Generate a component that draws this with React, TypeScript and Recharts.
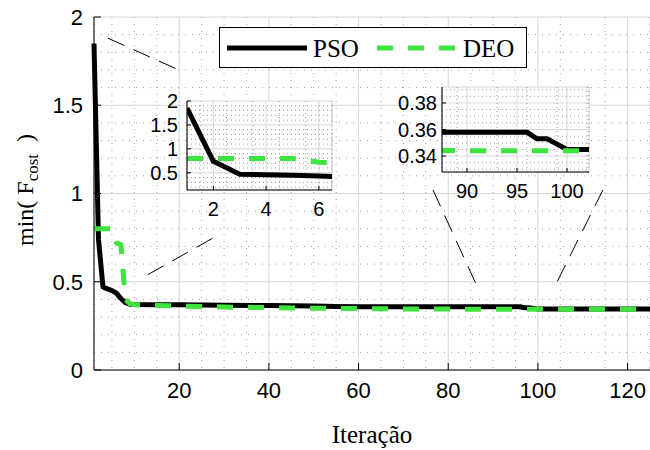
import React from "react";
import {
  LineChart,
  Line,
  XAxis,
  YAxis,
  CartesianGrid,
  ReferenceLine,
  Legend,
} from "recharts";

const SANS = "'Liberation Sans', Arial, Helvetica, sans-serif";
const SERIF = "'Liberation Serif', 'Times New Roman', serif";
const GREEN = "#3ee33e";
const DASH = "16 15";
const MINOR = "#a0a0a0";

// best cost found per iteration
const iterations = [1, 2, 3, 4, 5, 6, 7, 8, 9, 10, 15, 20, 30, 40, 50, 55, 60, 70, 80, 90, 96, 97, 98, 99, 100, 101, 110, 125];
const psoCost = [1.85, 0.74, 0.47, 0.46, 0.45, 0.435, 0.405, 0.382, 0.373, 0.371, 0.37, 0.369, 0.367, 0.365, 0.363, 0.36, 0.358, 0.358, 0.358, 0.358, 0.358, 0.353, 0.353, 0.349, 0.345, 0.345, 0.345, 0.345];
const deoCost = [0.8, 0.8, 0.8, 0.8, 0.8, 0.72, 0.71, 0.4, 0.375, 0.37, 0.366, 0.362, 0.357, 0.353, 0.35, 0.349, 0.348, 0.346, 0.345, 0.344, 0.344, 0.344, 0.344, 0.344, 0.344, 0.344, 0.344, 0.344];

const seriesOrder = ["pso", "deo"];

const xTicks = [20, 40, 60, 80, 100, 120];
const yTicks = [0, 0.5, 1, 1.5, 2];

const zoomAXTicks = [2, 4, 6];
const zoomAYTicks = [0.5, 1, 1.5, 2];
const zoomBXTicks = [90, 95, 100];
const zoomBYTicks = [0.34, 0.36, 0.38];

// dashed guide lines from the zoomed regions to the insets (main axes units)
const connectors = [
  [{ x: 4.1, y: 1.88 }, { x: 20.8, y: 1.69 }],
  [{ x: 13.0, y: 0.54 }, { x: 29.1, y: 0.77 }],
  [{ x: 76.6, y: 1.02 }, { x: 86.6, y: 0.465 }],
  [{ x: 114.5, y: 1.02 }, { x: 103.6, y: 0.465 }],
];

const data = iterations.map((it, i) => ({ it, pso: psoCost[i], deo: deoCost[i] }));

// minor grid positions, skipping the major ones
function minorSteps(from: number, to: number, step: number, major: number) {
  const out: number[] = [];
  for (let k = 0; from + k * step <= to + 1e-9; k++) {
    const v = +(from + k * step).toFixed(4);
    const r = v / major;
    if (Math.abs(r - Math.round(r)) > 1e-6) out.push(v);
  }
  return out;
}

type Side = "bottom" | "left" | "top" | "right";

// ticks pointing into the plot, MATLAB style
function makeTick(side: Side, len: number, size = 0, gap = 0) {
  return (props: any) => {
    const { x, y, payload } = props;
    const label = String(payload.value);
    if (side === "bottom") {
      return (
        <g>
          <line x1={x} x2={x} y1={y} y2={y - len} stroke="#000" />
          {size > 0 && (
            <text x={x} y={y + gap} textAnchor="middle" fontSize={size} fontFamily={SANS} fill="#000">
              {label}
            </text>
          )}
        </g>
      );
    }
    if (side === "left") {
      return (
        <g>
          <line x1={x} x2={x + len} y1={y} y2={y} stroke="#000" />
          {size > 0 && (
            <text x={x - gap} y={y + size * 0.36} textAnchor="end" fontSize={size} fontFamily={SANS} fill="#000">
              {label}
            </text>
          )}
        </g>
      );
    }
    if (side === "top") {
      return <line x1={x} x2={x} y1={y} y2={y + len} stroke="#000" />;
    }
    return <line x1={x} x2={x - len} y1={y} y2={y} stroke="#000" />;
  };
}

const LegendBox = (props: any) => {
  const items = [...(props.payload || [])].sort(
    (a: any, b: any) => seriesOrder.indexOf(a.dataKey) - seriesOrder.indexOf(b.dataKey)
  );
  return (
    <svg width={308} height={41} style={{ display: "block" }}>
      <rect x={0.5} y={0.5} width={307} height={40} fill="#fff" stroke="#000" />
      {items.map((entry: any, i: number) => {
        const x0 = i === 0 ? 8 : 158;
        return (
          <g key={entry.value}>
            <line
              x1={x0}
              x2={x0 + 80}
              y1={21}
              y2={21}
              stroke={entry.color}
              strokeWidth={5}
              strokeDasharray={entry.payload?.strokeDasharray}
            />
            <text x={x0 + 86} y={30} fontSize={25} fontFamily={SERIF} fill="#000">
              {entry.value}
            </text>
          </g>
        );
      })}
    </svg>
  );
};

interface InsetProps {
  left: number;
  top: number;
  plotW: number;
  plotH: number;
  yWidth: number;
  labelGap: number;
  xDomain: [number, number];
  yDomain: [number, number];
  xTicks: number[];
  yTicks: number[];
  minorX: number[];
  minorY: number[];
}

function ZoomInset(p: InsetProps) {
  const w = p.yWidth + p.plotW + 10;
  const h = 10 + p.plotH + 35;
  return (
    <div style={{ position: "absolute", left: p.left - p.yWidth, top: p.top - 10 }}>
      <LineChart width={w} height={h} data={data} margin={{ top: 10, right: 10, bottom: 0, left: 0 }}>
        <CartesianGrid fill="#fff" fillOpacity={1} stroke="#d6d6d6" />
        <CartesianGrid xAxisId="mx" horizontal={false} stroke={MINOR} strokeDasharray="1 3" />
        {p.minorY.map((v) => (
          <ReferenceLine key={v} y={v} stroke={MINOR} strokeDasharray="1 3" />
        ))}
        <XAxis
          dataKey="it"
          type="number"
          domain={p.xDomain}
          allowDataOverflow
          ticks={p.xTicks}
          height={35}
          tickSize={0}
          tickMargin={0}
          tickLine={false}
          axisLine={{ stroke: "#000" }}
          tick={makeTick("bottom", 4, 20, 26)}
        />
        <XAxis
          xAxisId="top"
          orientation="top"
          dataKey="it"
          type="number"
          domain={p.xDomain}
          allowDataOverflow
          ticks={p.xTicks}
          height={0}
          tickSize={0}
          tickMargin={0}
          tickLine={false}
          axisLine={{ stroke: "#000" }}
          tick={makeTick("top", 4)}
        />
        <XAxis xAxisId="mx" dataKey="it" type="number" domain={p.xDomain} allowDataOverflow ticks={p.minorX} hide />
        <YAxis
          type="number"
          domain={p.yDomain}
          allowDataOverflow
          ticks={p.yTicks}
          width={p.yWidth}
          tickSize={0}
          tickMargin={0}
          tickLine={false}
          axisLine={{ stroke: "#000" }}
          tick={makeTick("left", 4, 20, p.labelGap)}
        />
        <YAxis
          yAxisId="right"
          orientation="right"
          type="number"
          domain={p.yDomain}
          allowDataOverflow
          ticks={p.yTicks}
          width={0}
          tickSize={0}
          tickMargin={0}
          tickLine={false}
          axisLine={{ stroke: "#000" }}
          tick={makeTick("right", 4)}
        />
        <Line dataKey="pso" type="linear" stroke="#000" strokeWidth={5} strokeLinejoin="round" dot={false} isAnimationActive={false} />
        <Line dataKey="deo" type="linear" stroke={GREEN} strokeWidth={5} strokeDasharray={DASH} dot={false} isAnimationActive={false} />
      </LineChart>
    </div>
  );
}

const mainMinorX = minorSteps(5, 125, 5, 20);
const mainMinorY = minorSteps(0.1, 1.9, 0.1, 0.5);

export default function App() {
  return (
    <div style={{ position: "fixed", left: 0, top: 0, width: 650, height: 450, background: "#fff", overflow: "hidden" }}>
      <LineChart width={650} height={450} data={data} margin={{ top: 17, right: 0, bottom: 0, left: 0 }}>
        <CartesianGrid stroke="#d6d6d6" />
        <CartesianGrid xAxisId="mx" horizontal={false} stroke={MINOR} strokeDasharray="1 6" />
        {mainMinorY.map((v) => (
          <ReferenceLine key={v} y={v} stroke={MINOR} strokeDasharray="1 6" />
        ))}
        <XAxis
          dataKey="it"
          type="number"
          domain={[1, 125]}
          ticks={xTicks}
          height={80}
          tickSize={0}
          tickMargin={0}
          tickLine={false}
          axisLine={{ stroke: "#000" }}
          tick={makeTick("bottom", 7, 22, 28)}
        />
        <XAxis
          xAxisId="top"
          orientation="top"
          dataKey="it"
          type="number"
          domain={[1, 125]}
          ticks={xTicks}
          height={0}
          tickSize={0}
          tickMargin={0}
          tickLine={false}
          axisLine={{ stroke: "#000" }}
          tick={makeTick("top", 7)}
        />
        <XAxis xAxisId="mx" dataKey="it" type="number" domain={[1, 125]} ticks={mainMinorX} hide />
        <YAxis
          type="number"
          domain={[0, 2]}
          ticks={yTicks}
          width={94}
          tickSize={0}
          tickMargin={0}
          tickLine={false}
          axisLine={{ stroke: "#000" }}
          tick={makeTick("left", 7, 22, 11)}
        />
        {connectors.map((seg, i) => (
          <ReferenceLine key={i} segment={seg} stroke="#000" strokeWidth={1} strokeDasharray="18 10" />
        ))}
        <Line name="PSO" dataKey="pso" type="linear" stroke="#000" strokeWidth={5} strokeLinejoin="round" dot={false} isAnimationActive={false} />
        <Line name="DEO" dataKey="deo" type="linear" stroke={GREEN} strokeWidth={5} strokeDasharray={DASH} dot={false} isAnimationActive={false} />
        <Legend
          layout="horizontal"
          verticalAlign="middle"
          align="center"
          wrapperStyle={{ position: "absolute", left: 219, top: 27, width: 308, height: 41 }}
          content={LegendBox}
        />
      </LineChart>

      <svg width={650} height={450} style={{ position: "absolute", left: 0, top: 0, pointerEvents: "none" }}>
        <text x={372} y={443} textAnchor="middle" fontSize={25} fontFamily={SERIF} fill="#000">
          Iteração
        </text>
        <text transform="translate(33,190) rotate(-90)" textAnchor="middle" fontSize={24} fontFamily={SERIF} fill="#000">
          min( F
          <tspan fontSize={17} dy={5}>cost</tspan>
          <tspan dy={-5}>{"\u00a0\u00a0)"}</tspan>
        </text>
      </svg>

      <ZoomInset
        left={187}
        top={101}
        plotW={145}
        plotH={89}
        yWidth={45}
        labelGap={9}
        xDomain={[1, 6.5]}
        yDomain={[0.14, 2]}
        xTicks={zoomAXTicks}
        yTicks={zoomAYTicks}
        minorX={minorSteps(1.5, 6.5, 0.5, 2)}
        minorY={minorSteps(0.2, 1.9, 0.1, 0.5)}
      />
      <ZoomInset
        left={442}
        top={87}
        plotW={147}
        plotH={85}
        yWidth={60}
        labelGap={5}
        xDomain={[87.5, 102.2]}
        yDomain={[0.328, 0.392]}
        xTicks={zoomBXTicks}
        yTicks={zoomBYTicks}
        minorX={minorSteps(88, 102, 1, 5)}
        minorY={minorSteps(0.33, 0.39, 0.005, 0.02)}
      />
    </div>
  );
}
